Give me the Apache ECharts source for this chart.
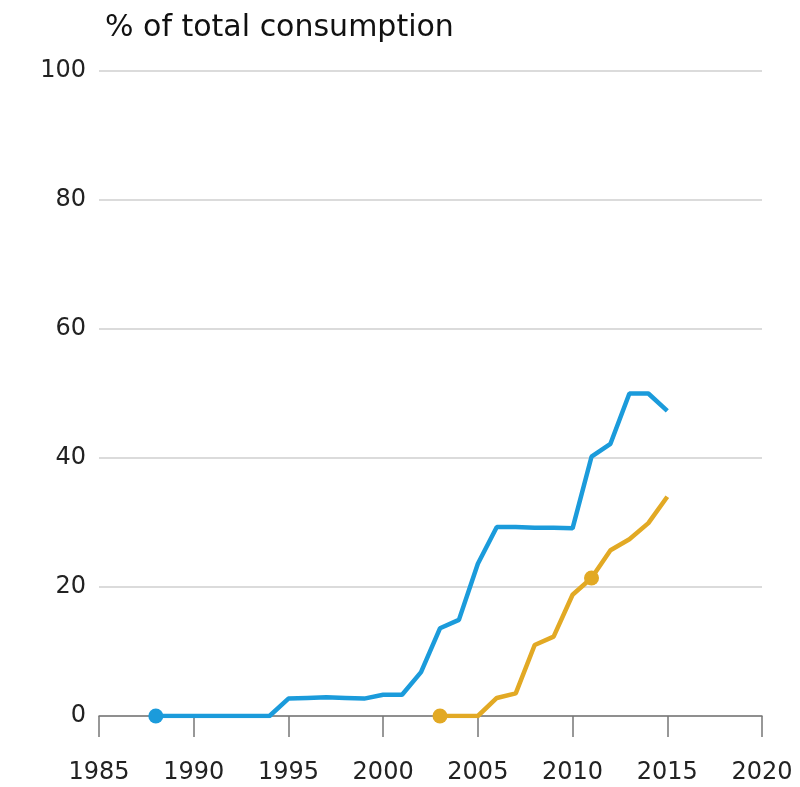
<!DOCTYPE html>
<html>
<head>
<meta charset="utf-8">
<script src="https://cdn.jsdelivr.net/npm/echarts@6/dist/echarts.min.js"></script>
<style>
html,body{margin:0;padding:0;background:#fff;}
#chart{width:800px;height:787px;}
</style>
</head>
<body>
<div id="chart"></div>
<script>
var titleText = '% of total consumption';
var blueYears = [1988,1989,1990,1991,1992,1993,1994,1995,1996,1997,1998,1999,2000,2001,2002,2003,2004,2005,2006,2007,2008,2009,2010,2011,2012,2013,2014,2015];
var blueValues = [0,0,0,0,0,0,0,2.7,2.8,2.9,2.8,2.7,3.3,3.3,6.8,13.6,14.9,23.6,29.3,29.3,29.2,29.2,29.1,40.2,42.2,50,50,47.3];
var orangeYears = [2003,2004,2005,2006,2007,2008,2009,2010,2011,2012,2013,2014,2015];
var orangeValues = [0,0,0,2.8,3.5,11,12.3,18.8,21.4,25.7,27.4,29.9,34];
var blueMarkerYears = [1988];
var orangeMarkerYears = [2003, 2011];
var xTicks = [1985,1990,1995,2000,2005,2010,2015,2020];
var yTicks = [0,20,40,60,80,100];

var BLUE = '#1b9bdb', ORANGE = '#e2a924';
var FONT = 'DejaVu Sans';
function pairs(xs, ys){ return xs.map(function(x,i){ return [x, ys[i]]; }); }
function markers(xs, ys, sel){ return sel.map(function(y){ return [y, ys[xs.indexOf(y)]]; }); }

var chart = echarts.init(document.getElementById('chart'), null, {renderer:'canvas'});
chart.setOption({
  backgroundColor:'#fff',
  animation:false,
  title:{text:titleText,left:105,top:13,padding:0,textStyle:{fontFamily:FONT,fontWeight:'normal',fontSize:30,color:'#111'}},
  grid:{left:99,right:38,top:71,bottom:71,containLabel:false},
  xAxis:{
    type:'value',min:xTicks[0],max:xTicks[xTicks.length-1],interval:5,
    axisLine:{show:true,lineStyle:{color:'#777',width:1.5}},
    axisTick:{show:true,length:21,lineStyle:{color:'#777',width:1.5}},
    axisLabel:{fontFamily:FONT,fontSize:24,color:'#222',margin:45,formatter:function(v){return String(v);}},
    splitLine:{show:false}
  },
  yAxis:{
    type:'value',min:0,max:100,interval:20,
    axisLine:{show:false},axisTick:{show:false},
    axisLabel:{fontFamily:FONT,fontSize:24,color:'#222',margin:13},
    splitLine:{show:true,lineStyle:{color:'#cfcfcf',width:1.5}}
  },
  series:[
    {type:'line',data:pairs(blueYears,blueValues),showSymbol:false,lineStyle:{color:BLUE,width:4.5},itemStyle:{color:BLUE},z:3},
    {type:'line',data:pairs(orangeYears,orangeValues),showSymbol:false,lineStyle:{color:ORANGE,width:4.5},itemStyle:{color:ORANGE},z:3},
    {type:'scatter',data:markers(blueYears,blueValues,blueMarkerYears),symbolSize:15,itemStyle:{color:BLUE,opacity:1},z:4},
    {type:'scatter',data:markers(orangeYears,orangeValues,orangeMarkerYears),symbolSize:15,itemStyle:{color:ORANGE,opacity:1},z:4}
  ]
});
</script>
</body>
</html>
